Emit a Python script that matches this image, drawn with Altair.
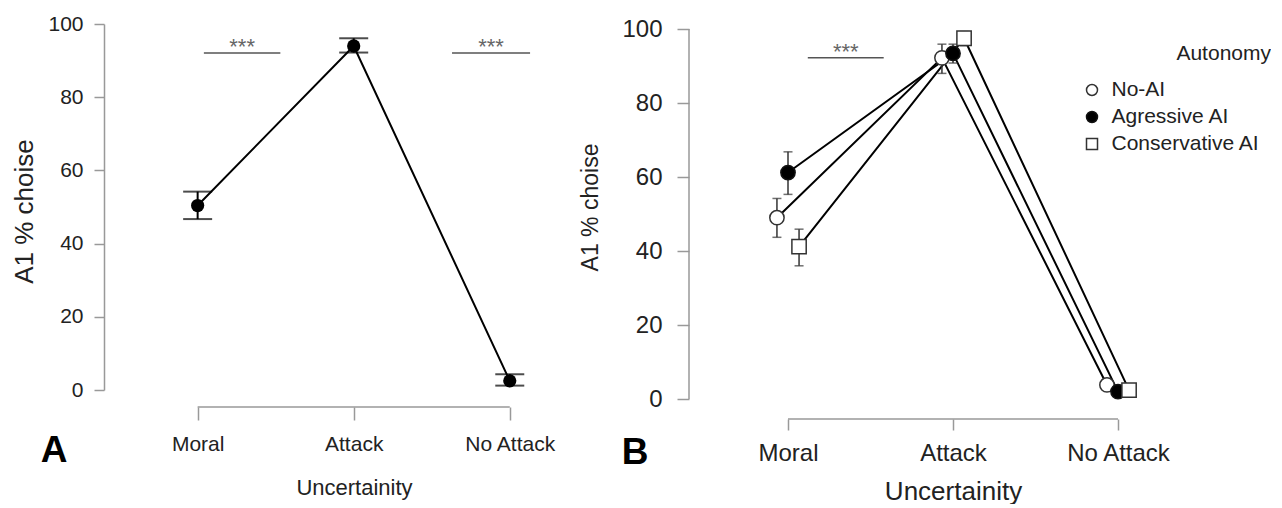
import json
import altair as alt
import pandas as pd

# ---------------- data ----------------
categories = ["Moral", "Attack", "No Attack"]

# Panel A (overall)
a_mean = [50.4, 94.0, 2.5]
a_low = [46.7, 92.2, 1.2]
a_high = [54.2, 96.1, 4.3]

# Panel B (by autonomy)
series = ["No-AI", "Agressive AI", "Conservative AI"]
b_noai_mean = [49.0, 92.2, 3.8]
b_noai_low = [43.7, 88.0, 2.6]
b_noai_high = [54.2, 95.9, 5.0]
b_aggr_mean = [61.2, 93.4, 2.0]
b_aggr_low = [55.3, 90.8, 1.0]
b_aggr_high = [66.8, 95.9, 3.0]
b_cons_mean = [41.2, 97.5, 2.4]
b_cons_low = [36.0, 95.5, 1.4]
b_cons_high = [45.9, 99.3, 3.4]

# significance bars (category-index units)
sigA_start = [0.04, 1.63]
sigA_end = [0.53, 2.13]
sigA_y = [92.1, 92.1]
sigB_start = [0.12]
sigB_end = [0.58]
sigB_y = [92.2]
sig_label = "***"

yticks = [0, 20, 40, 60, 80, 100]

# ---------------- frames ----------------
dfA = pd.DataFrame({"cat": categories, "idx": list(range(len(categories))),
                    "mean": a_mean, "lo": a_low, "hi": a_high})

dodge = {"No-AI": -0.067, "Agressive AI": 0.0, "Conservative AI": 0.067}
rows = []
for s, m, lo, hi in [("No-AI", b_noai_mean, b_noai_low, b_noai_high),
                     ("Agressive AI", b_aggr_mean, b_aggr_low, b_aggr_high),
                     ("Conservative AI", b_cons_mean, b_cons_low, b_cons_high)]:
    for i, c in enumerate(categories):
        rows.append({"series": s, "cat": c, "idx": i, "xpos": i + dodge[s],
                     "mean": m[i], "lo": lo[i], "hi": hi[i]})
dfB = pd.DataFrame(rows)

sigA = pd.DataFrame({"x0": sigA_start, "x1": sigA_end, "y": sigA_y,
                     "xm": [(a + b) / 2 for a, b in zip(sigA_start, sigA_end)],
                     "t": [sig_label] * len(sigA_y)})
sigB = pd.DataFrame({"x0": sigB_start, "x1": sigB_end, "y": sigB_y,
                     "xm": [(a + b) / 2 for a, b in zip(sigB_start, sigB_end)],
                     "t": [sig_label] * len(sigB_y)})
xdom = pd.DataFrame({"x0": [0], "x1": [len(categories) - 1]})
ydom = pd.DataFrame({"y0": [0], "y1": [100]})

FONT = "Liberation Sans, Arial, Helvetica, sans-serif"
AXC = "#999999"
TXT = "#222222"
label_expr = json.dumps(categories) + "[datum.value]"
NOVIEW = alt.ViewBackground(stroke="transparent", strokeWidth=0)

# ---------------- panel A ----------------
WA, HA = 476, 366
OFF_A = 17
SPACING = 109


def xA(field):
    return alt.X(field, type="quantitative",
                 scale=alt.Scale(domain=[-0.6, 2.45], nice=False, zero=False),
                 axis=alt.Axis(values=[0, 1, 2], labelExpr=label_expr, title="Uncertainity",
                               offset=OFF_A, domain=False, grid=False, tickSize=13,
                               tickColor=AXC, tickWidth=1.5, labelPadding=13.5,
                               labelFlush=False, labelFontSize=21, labelFont=FONT,
                               labelColor=TXT, titleFontSize=22, titleFont=FONT,
                               titleFontWeight="normal", titleColor=TXT,
                               titleX=250, titleY=70))


def yA(field):
    return alt.Y(field, type="quantitative",
                 scale=alt.Scale(domain=[0, 100], nice=False, zero=False),
                 axis=alt.Axis(values=yticks, title="A1 % choise", grid=False,
                               domainColor=AXC, domainWidth=1.5, tickColor=AXC,
                               tickSize=10, tickWidth=1.5, labelPadding=11,
                               labelFontSize=21, labelFont=FONT, labelColor=TXT,
                               minExtent=56, maxExtent=56, titlePadding=11,
                               titleFontSize=26, titleFont=FONT,
                               titleFontWeight="normal", titleColor=TXT, titleY=187))


baseA = alt.Chart(dfA)
A_line = baseA.mark_line(color="black", strokeWidth=2).encode(x=xA("idx"), y=yA("mean"))
A_err = baseA.mark_rule(color="black", strokeWidth=2).encode(x=xA("idx"), y=yA("lo"), y2="hi")
A_cap_lo = baseA.mark_tick(orient="horizontal", size=29, thickness=2, color="black").encode(
    x=xA("idx"), y=yA("lo"))
A_cap_hi = baseA.mark_tick(orient="horizontal", size=29, thickness=2, color="black").encode(
    x=xA("idx"), y=yA("hi"))
A_pts = baseA.mark_circle(size=175, color="black", opacity=1).encode(x=xA("idx"), y=yA("mean"))
A_xdom = alt.Chart(xdom).mark_rule(color=AXC, strokeWidth=1.5).encode(
    x=xA("x0"), x2="x1", y=alt.value(HA + OFF_A))
A_sig = alt.Chart(sigA).mark_rule(color="#555555", strokeWidth=1.5).encode(
    x=xA("x0"), x2="x1", y=yA("y"))
A_sigt = alt.Chart(sigA).mark_text(fontSize=22, color="#666666", font=FONT, dy=1,
                                   baseline="alphabetic").encode(
    x=xA("xm"), y=yA("y"), text="t:N")
A_letter = alt.Chart(pd.DataFrame({"t": ["A"]})).mark_text(
    fontSize=37, fontWeight="bold", font=FONT, color="black", align="center",
    baseline="alphabetic").encode(text="t:N", x=alt.value(-50), y=alt.value(438))

panelA = alt.layer(A_xdom, A_sig, A_sigt, A_line, A_err, A_cap_lo, A_cap_hi, A_pts,
                   A_letter).properties(width=WA, height=HA, view=NOVIEW)

# ---------------- panel B ----------------
WB, HB = 462, 375
OFF_B = 20
YMAX_B = 100 * HB / 370


def xB(field):
    return alt.X(field, type="quantitative",
                 scale=alt.Scale(domain=[-0.6, 2.2], nice=False, zero=False),
                 axis=alt.Axis(values=[0, 1, 2], labelExpr=label_expr, title="Uncertainity",
                               offset=OFF_B, domain=False, grid=False, tickSize=11,
                               tickColor=AXC, tickWidth=1.5, labelPadding=11,
                               labelFlush=False, labelFontSize=24, labelFont=FONT,
                               labelColor=TXT, titleFontSize=26, titleFont=FONT,
                               titleFontWeight="normal", titleColor=TXT,
                               titleX=264, titleY=59))


def yB(field):
    return alt.Y(field, type="quantitative",
                 scale=alt.Scale(domain=[0, YMAX_B], nice=False, zero=False),
                 axis=alt.Axis(values=yticks, title="A1 % choise", grid=False,
                               domain=False, tickColor=AXC,
                               tickSize=12, tickWidth=1.5, labelPadding=15,
                               labelFontSize=24, labelFont=FONT, labelColor=TXT,
                               minExtent=67, maxExtent=67, titlePadding=20,
                               titleFontSize=23, titleFont=FONT,
                               titleFontWeight="normal", titleColor=TXT, titleY=183))


baseB = alt.Chart(dfB)
B_line = baseB.mark_line(color="black", strokeWidth=2).encode(
    x=xB("xpos"), y=yB("mean"), detail="series:N")
B_err = baseB.mark_rule(color="#333333", strokeWidth=1.5).encode(
    x=xB("xpos"), y=yB("lo"), y2="hi")
B_cap_lo = baseB.mark_tick(orient="horizontal", size=9, thickness=1.5, color="#333333").encode(
    x=xB("xpos"), y=yB("lo"))
B_cap_hi = baseB.mark_tick(orient="horizontal", size=9, thickness=1.5, color="#333333").encode(
    x=xB("xpos"), y=yB("hi"))

# legend placed in top-level coordinates (origin = panel A plot corner)
legend_kw = dict(title=None, orient="none", legendX=WA + SPACING + 392.5, legendY=55.5,
                 padding=0, symbolSize=121, symbolStrokeWidth=1.5,
                 labelFontSize=21, labelFont=FONT, labelColor=TXT, labelOffset=9,
                 rowPadding=5)
B_pts = baseB.mark_point(filled=True, size=205, strokeWidth=1.5, opacity=1).encode(
    x=xB("xpos"), y=yB("mean"),
    shape=alt.Shape("series:N", scale=alt.Scale(domain=series,
                                                range=["circle", "circle", "square"]),
                    legend=alt.Legend(**legend_kw)),
    fill=alt.Fill("series:N", scale=alt.Scale(domain=series,
                                              range=["white", "black", "white"]),
                  legend=alt.Legend(**legend_kw)),
    stroke=alt.Stroke("series:N", scale=alt.Scale(domain=series,
                                                  range=["#333333", "#111111", "#333333"]),
                      legend=alt.Legend(**legend_kw)),
)
B_xdom = alt.Chart(xdom).mark_rule(color=AXC, strokeWidth=1.5).encode(
    x=xB("x0"), x2="x1", y=alt.value(HB + OFF_B))
B_ydom = alt.Chart(ydom).mark_rule(color=AXC, strokeWidth=1.5).encode(
    x=alt.value(0), y=yB("y0"), y2="y1")
B_sig = alt.Chart(sigB).mark_rule(color="#555555", strokeWidth=1.5).encode(
    x=xB("x0"), x2="x1", y=yB("y"))
B_sigt = alt.Chart(sigB).mark_text(fontSize=22, color="#666666", font=FONT, dy=1,
                                   baseline="alphabetic").encode(
    x=xB("xm"), y=yB("y"), text="t:N")
B_letter = alt.Chart(pd.DataFrame({"t": ["B"]})).mark_text(
    fontSize=37, fontWeight="bold", font=FONT, color="black", align="center",
    baseline="alphabetic").encode(text="t:N", x=alt.value(-54), y=alt.value(440))
B_legtitle = alt.Chart(pd.DataFrame({"t": ["Autonomy"]})).mark_text(
    fontSize=21, font=FONT, color=TXT, align="right", baseline="alphabetic").encode(
    text="t:N", x=alt.value(582), y=alt.value(36))

panelB = alt.layer(B_xdom, B_ydom, B_sig, B_sigt, B_line, B_err, B_cap_lo, B_cap_hi,
                   B_pts, B_letter, B_legtitle).properties(width=WB, height=HB, view=NOVIEW)

chart = alt.hconcat(panelA, panelB, spacing=SPACING, bounds="flush").properties(
    padding={"left": 3, "top": 5, "right": 0, "bottom": 0},
    background="white",
).configure_view(stroke="transparent", strokeWidth=0).configure(font=FONT)

chart.save("out.html", embed_options={"renderer": "svg", "actions": False})
